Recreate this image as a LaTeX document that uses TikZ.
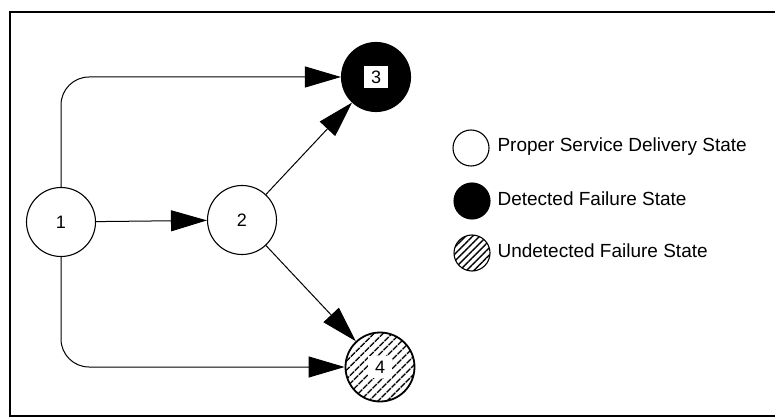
\documentclass[tikz,border=0pt]{standalone}
\usepackage{fontspec}
\setmainfont{Liberation Sans}
\usetikzlibrary{arrows.meta,patterns.meta}
\usetikzlibrary{positioning}

\tikzset{
    state/.style={circle, draw, line width=1.1pt, minimum size=69pt, inner sep=0pt, font=\fontsize{18}{18}\selectfont},
    detected/.style={state, fill=black},
    undetected/.style={state, line width=1.8pt, pattern={Lines[angle=45,distance=6.5pt,line width=1.8pt]}},
    tag/.style={fill=white, inner sep=0pt, minimum width=24pt, minimum height=22pt, font=\fontsize{18}{18}\selectfont},
    key/.style={circle, draw, line width=1.1pt, minimum size=36pt, inner sep=0pt},
    keytext/.style={anchor=west, font=\fontsize{19}{19}\selectfont},
    trans/.style={line width=1pt, -{Triangle[length=36pt,width=21pt]}},
}

\begin{document}
\begin{tikzpicture}[x=1pt,y=-1pt]
    \useasboundingbox (0,0) rectangle (775,419);
    \draw[line width=2pt] (776,12) -- (10,12) -- (10,416) -- (776,416);

    % states
    \node[state] (n1) at (61,222) {1};
    \node[state] (n2) at (242,220) {2};
    \node[detected] (n3) at (376,77) {};
    \node[tag] (l3) at (n3) {3};
    \node[undetected] (n4) at (380,367) {};
    \node[tag] (l4) at (n4) {4};

    % transitions
    \draw[trans] (n1) -- (n2);
    \draw[trans] (n2) -- (n3);
    \draw[trans] (n2) -- (n4);
    \draw[trans, rounded corners=28pt] (n1.north) |- (n3.west);
    \draw[trans, rounded corners=28pt] (n1.south) |- (n4.west);

    % legend
    \node[key] (k1) at (471,148) {};
    \node[key, fill=black] (k2) at (472,201) {};
    \node[key, pattern={Lines[angle=45,distance=5pt,line width=1.4pt]}] (k3) at (472,253) {};
    \node[keytext] (t1) at (494,147) {Proper Service Delivery State};
    \node[keytext] (t2) at (494,199) {Detected Failure State};
    \node[keytext] (t3) at (494,251) {Undetected Failure State};
\end{tikzpicture}
\end{document}
